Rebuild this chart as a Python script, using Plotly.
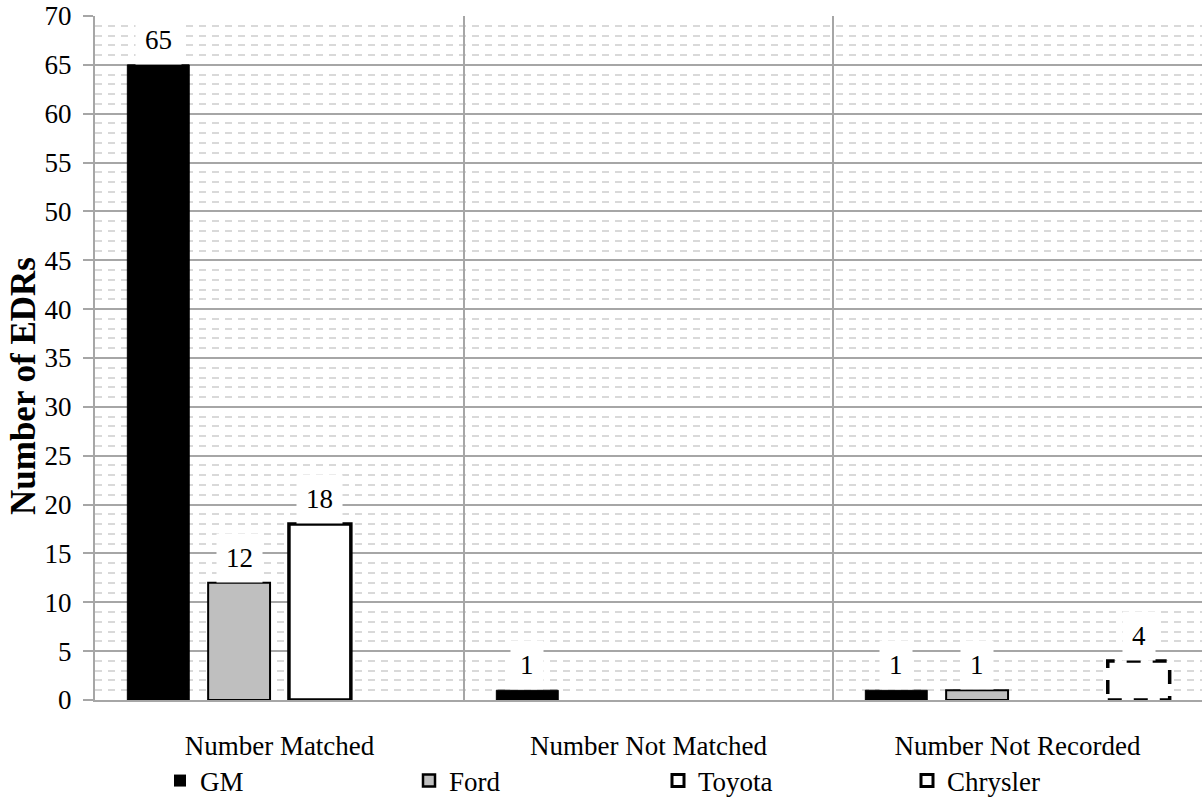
import plotly.graph_objects as go

# Counts of EDR records per manufacturer and outcome
categories = ["Number Matched", "Number Not Matched", "Number Not Recorded"]
makers = ["GM", "Ford", "Toyota", "Chrysler"]
gm = [65, 1, 1]
ford = [12, 0, 1]
toyota = [18, 0, 0]
chrysler = [0, 0, 4]
series = [gm, ford, toyota, chrysler]

y_ticks = list(range(0, 71, 5))

FONT = "Times New Roman"
FS = 27
W, H = 1202, 799
M_L, M_R, M_T, M_B = 95, 0, 16, 99
BARGAP = 0.124
GROUPGAP = 0.234

fills = ["#000000", "#bfbfbf", "#ffffff", "#ffffff"]
line_w = [1, 2, 3.5, 0]
icon_line = [0, 2.5, 3, 3]


def drawn(vals):
    return [v if v else None for v in vals]


fig = go.Figure()
for i, (name, vals) in enumerate(zip(makers, series)):
    fig.add_trace(go.Bar(
        name=name, x=categories, y=drawn(vals),
        marker=dict(color=fills[i], line=dict(color="#000000", width=line_w[i])),
        legendgroup=name, showlegend=False,
        hoverinfo="skip",
    ))

# legend keys (square swatches with heavier outlines)
for i, name in enumerate(makers):
    fig.add_trace(go.Scatter(
        name=name, x=[None], y=[None], mode="markers",
        legendgroup=name, showlegend=True,
        marker=dict(symbol="square", size=12, color=fills[i],
                    line=dict(width=icon_line[i], color="#000000")),
    ))

# geometry of a single bar slot within a category (fraction of category width)
slot = (1 - BARGAP) / len(makers)
bar_w = slot * (1 - GROUPGAP)
cat_px = (W - M_L - M_R) / len(categories)

for i, vals in enumerate(series):
    centre = (i - (len(makers) - 1) / 2) * slot
    for cat, v in zip(categories, vals):
        if not v:
            continue
        if makers[i] == "Chrysler":
            fig.add_shape(
                type="rect", xref="x", yref="y",
                x0=cat, x1=cat,
                x0shift=centre - bar_w / 2, x1shift=centre + bar_w / 2,
                y0=0, y1=v,
                line=dict(color="#000000", width=3.5, dash="14px,12px"),
                fillcolor="rgba(0,0,0,0)",
                layer="above",
            )
        fig.add_annotation(
            x=cat, y=v, xref="x", yref="y",
            xshift=centre * cat_px, yshift=0,
            yanchor="bottom", showarrow=False,
            text=str(v), bgcolor="#ffffff", borderpad=9,
            font=dict(family=FONT, size=FS, color="#000000"),
        )

# vertical axis title
fig.add_annotation(
    text="<b>Number of EDRs</b>", textangle=-90,
    xref="paper", yref="paper",
    x=(23 - M_L) / (W - M_L - M_R), y=(H - M_B - 386) / (H - M_T - M_B),
    xanchor="center", yanchor="middle", showarrow=False,
    font=dict(family=FONT, size=35, color="#000000"),
)

fig.update_layout(
    width=W, height=H,
    margin=dict(l=M_L, r=M_R, t=M_T, b=M_B, autoexpand=False),
    paper_bgcolor="#ffffff", plot_bgcolor="#ffffff",
    barmode="group", bargap=BARGAP, bargroupgap=GROUPGAP,
    font=dict(family=FONT, size=FS, color="#000000"),
    showlegend=True,
    legend=dict(
        orientation="h", xref="container", yref="container",
        x=160 / W, y=1 - 781 / H, xanchor="left", yanchor="middle",
        entrywidth=204, entrywidthmode="pixels",
        traceorder="normal",
        font=dict(family=FONT, size=FS, color="#000000"),
        bgcolor="rgba(0,0,0,0)", itemwidth=30,
    ),
)

fig.update_xaxes(
    type="category", tickson="boundaries",
    showgrid=True, gridcolor="#a6a6a6", gridwidth=2,
    showline=True, linecolor="#a6a6a6", linewidth=2,
    ticks="", ticklabelstandoff=21,
    tickfont=dict(family=FONT, size=FS, color="#000000"),
    range=[-0.5, 2.5], fixedrange=True,
)

fig.update_yaxes(
    range=[0, 70], tickvals=y_ticks,
    showgrid=True, gridcolor="#a6a6a6", gridwidth=2,
    showline=True, linecolor="#a6a6a6", linewidth=2,
    ticks="outside", ticklen=10, tickcolor="#a6a6a6", tickwidth=2,
    ticklabelstandoff=6,
    tickfont=dict(family=FONT, size=FS, color="#000000"),
    minor=dict(dtick=1, showgrid=True, gridcolor="#d9d9d9", gridwidth=1.5,
               griddash="7px,6px", ticks=""),
    zeroline=False,
    fixedrange=True,
)

fig.write_html("out.html")
